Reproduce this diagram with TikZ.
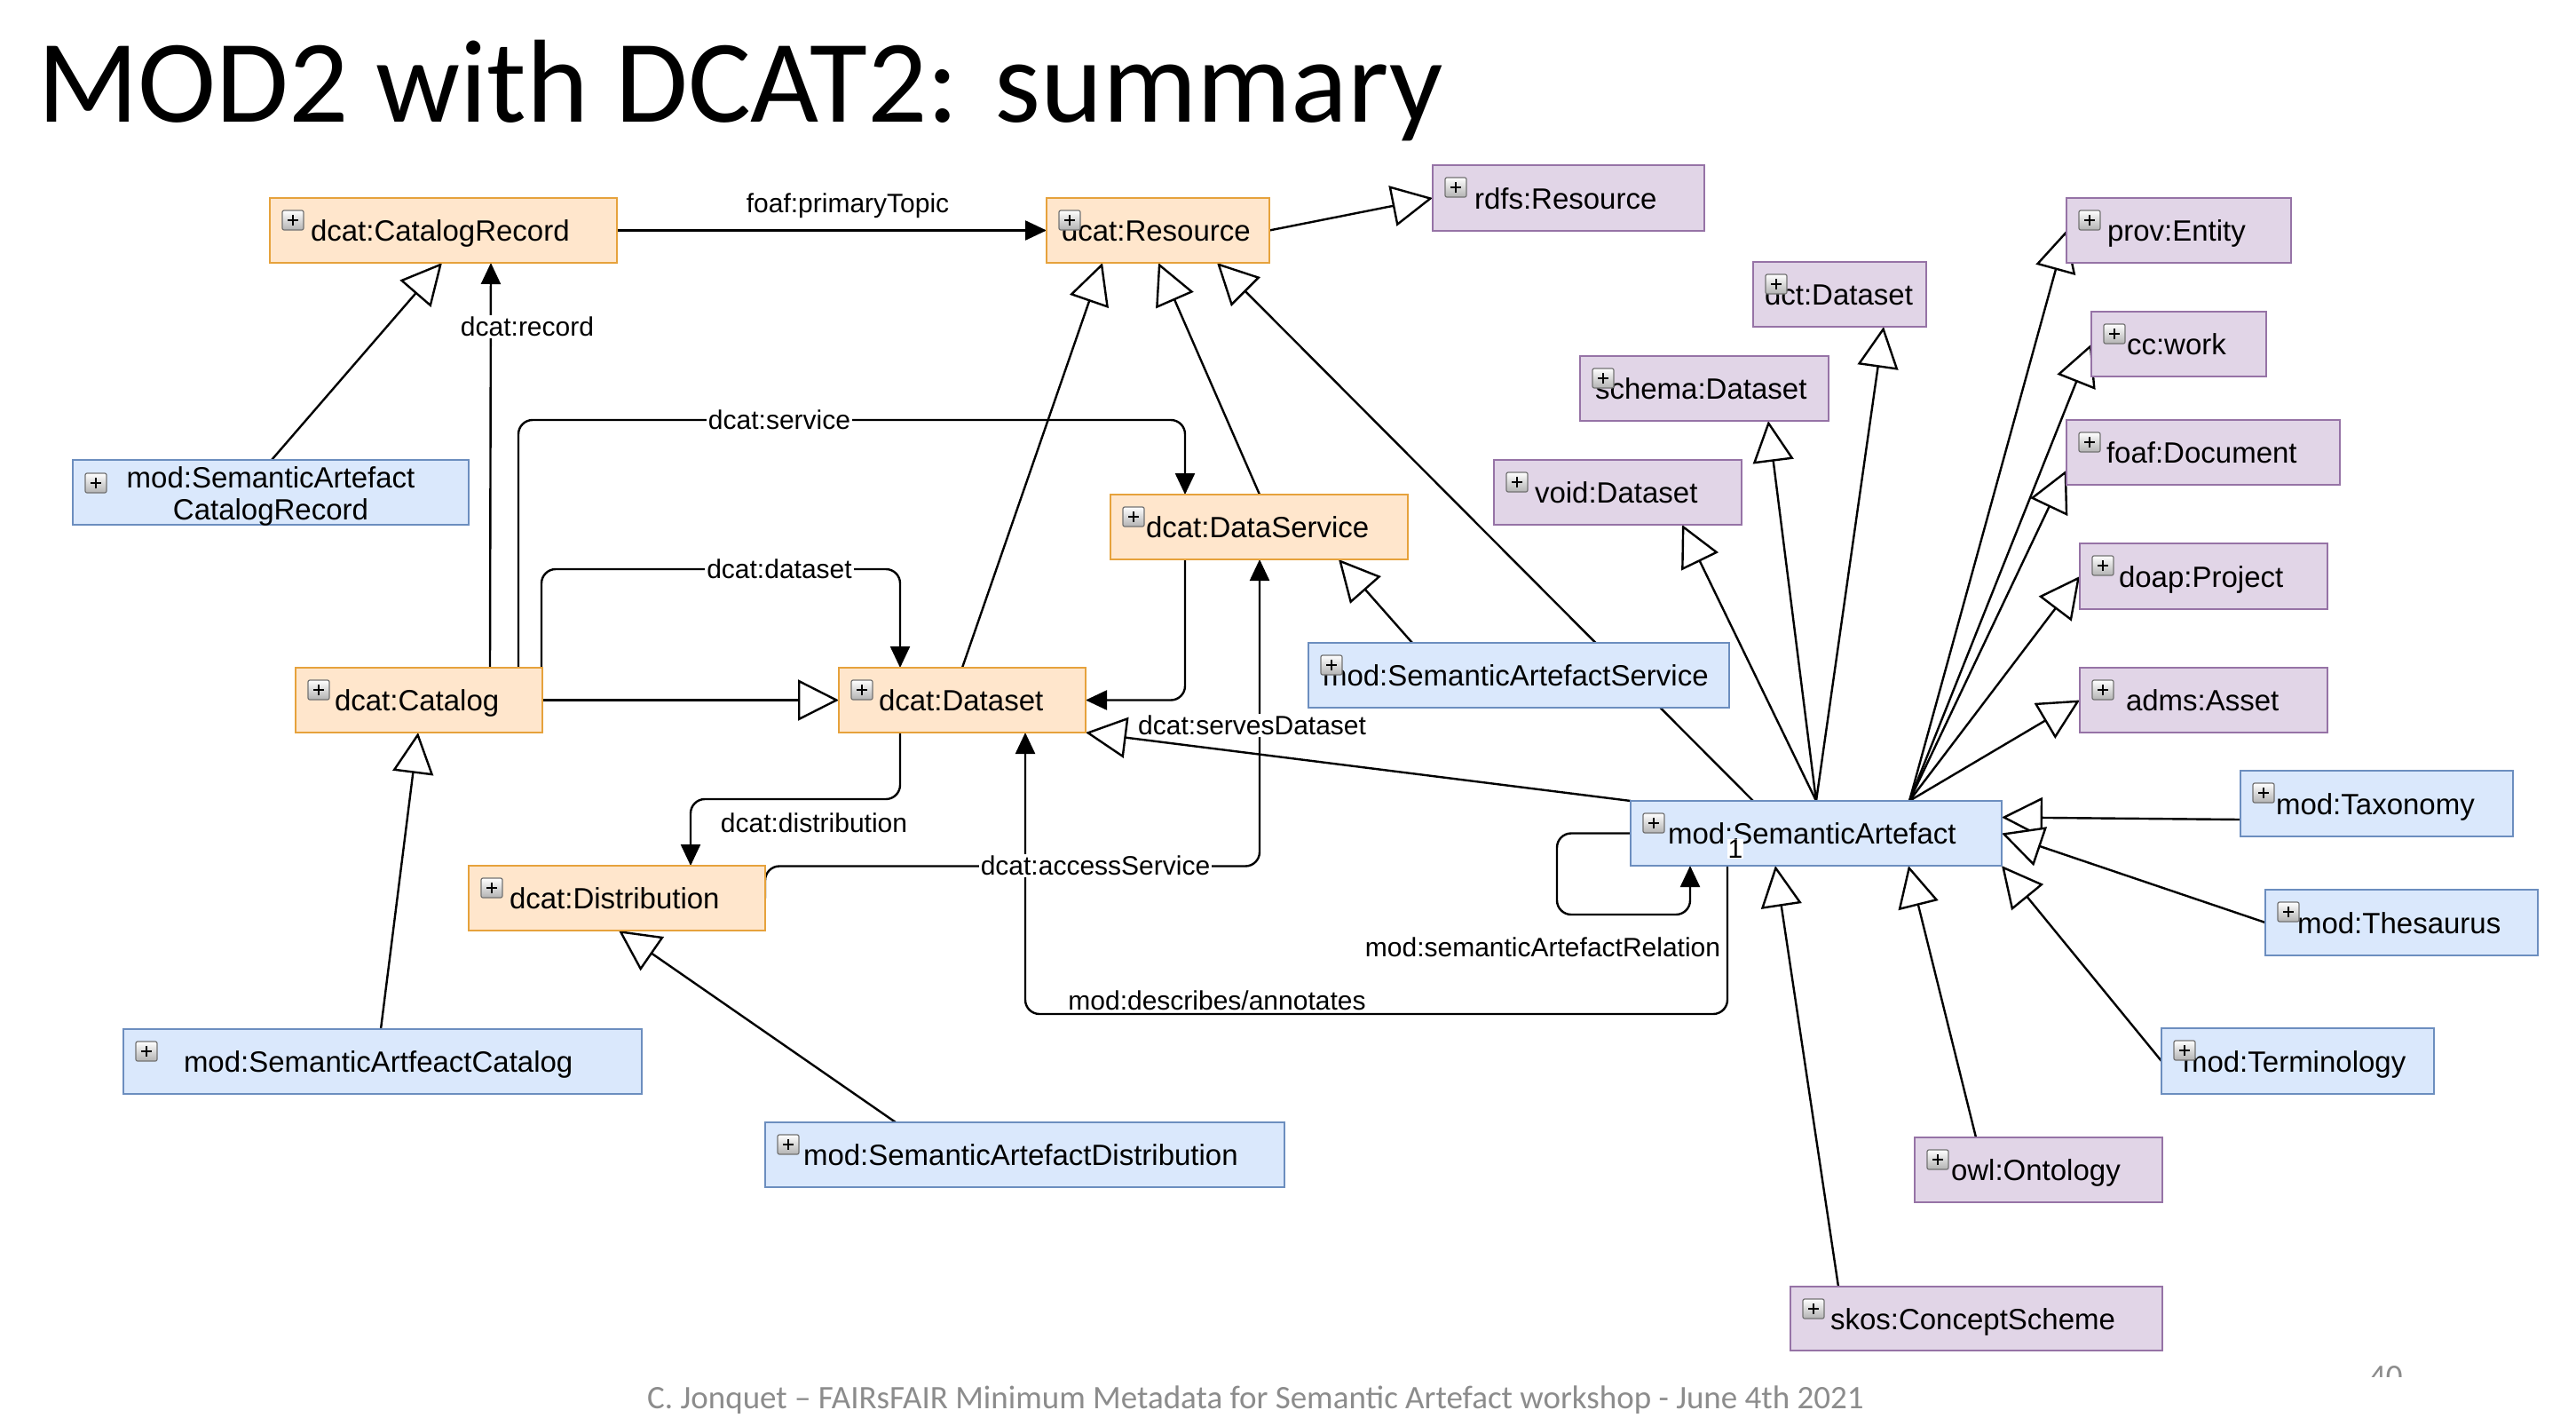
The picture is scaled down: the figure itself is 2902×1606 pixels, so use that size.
\documentclass[tikz,border=0pt]{standalone}
\usepackage{fontspec}
\setmainfont{Liberation Sans}
\newfontfamily\slidefont{Carlito}
\usetikzlibrary{arrows.meta,backgrounds}

\definecolor{orfill}{HTML}{FFE6CC}
\definecolor{ordraw}{HTML}{E6A23C}
\definecolor{blfill}{HTML}{DAE8FC}
\definecolor{bldraw}{HTML}{6C8EBF}
\definecolor{pufill}{HTML}{E1D5E7}
\definecolor{pudraw}{HTML}{9673A6}
\definecolor{footgrey}{HTML}{8C8C8C}

\tikzset{
  classbox/.style={draw, line width=2.4pt, inner sep=0pt, outer sep=0pt, anchor=north west},
  dcatbox/.style={classbox, fill=orfill, draw=ordraw},
  modbox/.style={classbox, fill=blfill, draw=bldraw},
  extbox/.style={classbox, fill=pufill, draw=pudraw},
  cname/.style={font=\fontsize{33}{33}\selectfont, inner sep=0pt, outer sep=0pt},
  plusicon/.style={anchor=north west, minimum width=24pt, minimum height=22pt,
    inner sep=0pt, outer sep=0pt, draw=black!55, line width=1.2pt, rounded corners=2pt,
    top color=white, bottom color=black!30,
    path picture={
      \draw[line width=2.6pt, black]
        ([xshift=-6pt]path picture bounding box.center) -- ([xshift=6pt]path picture bounding box.center)
        ([yshift=-6pt]path picture bounding box.center) -- ([yshift=6pt]path picture bounding box.center);}},
  gen/.style={line width=2.4pt, -{Triangle[length=46pt, width=46pt, fill=white]}},
  assoc/.style={line width=2.4pt, rounded corners=16pt, -{Triangle[length=24pt, width=22pt]}},
  elabel/.style={font=\fontsize{30}{30}\selectfont, fill=white, inner sep=2pt},
}

% class box: name, style, x1, y1, x2, y2, text offset, text
\newcommand\umlclass[8]{%
  \node[#2, minimum width={#5-#3}, minimum height={#6-#4}] (#1) at (#3,#4) {};
  \node[cname, anchor=base west] (#1-t) at ([xshift=#7, yshift=-12]#1.west) {#8};
  \node[plusicon] (#1-i) at ([xshift=14, yshift=-14]#1.north west) {};
}

\begin{document}
\begin{tikzpicture}[x=1pt, y=-1pt]
\useasboundingbox (0,0) rectangle (2902,1606);

% title and footer
\node[anchor=base west, inner sep=0pt, font=\slidefont\fontsize{133}{160}\selectfont] (title) at (42,137) {MOD2 with DCAT2: summary};
\node[anchor=base west, inner sep=0pt, text=footgrey, font=\slidefont\fontsize{37}{44}\selectfont] (footer) at (729,1586) {C. Jonquet – FAIRsFAIR Minimum Metadata for Semantic Artefact workshop - June 4th 2021};
\begin{scope}
  \clip (2600,1450) rectangle (2800,1550);
  \node[anchor=base west, inner sep=0pt, text=footgrey, font=\slidefont\fontsize{37}{44}\selectfont] (pagenum) at (2669,1562) {40};
\end{scope}

% classes
\umlclass{cr}{dcatbox}{304}{223}{695}{296}{46}{dcat:CatalogRecord}
\umlclass{res}{dcatbox}{1179}{223}{1430}{296}{17}{dcat:Resource}
\umlclass{rdfs}{extbox}{1614}{186}{1920}{260}{47}{rdfs:Resource}
\umlclass{dct}{extbox}{1975}{295}{2170}{368}{13}{dct:Dataset}
\umlclass{schema}{extbox}{1780}{401}{2060}{474}{17}{schema:Dataset}
\umlclass{void}{extbox}{1683}{518}{1962}{591}{46}{void:Dataset}
\umlclass{prov}{extbox}{2328}{223}{2581}{296}{46}{prov:Entity}
\umlclass{cc}{extbox}{2356}{351}{2553}{424}{40}{cc:work}
\umlclass{foaf}{extbox}{2328}{473}{2636}{546}{45}{foaf:Document}
\umlclass{doap}{extbox}{2343}{612}{2622}{686}{44}{doap:Project}
\umlclass{adms}{extbox}{2343}{752}{2622}{825}{52}{adms:Asset}
\umlclass{dserv}{dcatbox}{1251}{557}{1586}{630}{40}{dcat:DataService}
\umlclass{cat}{dcatbox}{333}{752}{611}{825}{44}{dcat:Catalog}
\umlclass{ds}{dcatbox}{945}{752}{1223}{825}{45}{dcat:Dataset}
\umlclass{dist}{dcatbox}{528}{975}{862}{1048}{46}{dcat:Distribution}
\umlclass{saserv}{modbox}{1474}{724}{1948}{797}{16}{mod:SemanticArtefactService}
\umlclass{sa}{modbox}{1837}{902}{2255}{975}{42}{mod:SemanticArtefact}
\umlclass{tax}{modbox}{2524}{868}{2831}{942}{40}{mod:Taxonomy}
\umlclass{thes}{modbox}{2552}{1002}{2859}{1076}{36}{mod:Thesaurus}
\umlclass{term}{modbox}{2435}{1158}{2742}{1232}{24}{mod:Terminology}
\umlclass{owl}{extbox}{2157}{1281}{2436}{1354}{41}{owl:Ontology}
\umlclass{skos}{extbox}{2017}{1449}{2436}{1521}{45}{skos:ConceptScheme}
\umlclass{sacat}{modbox}{139}{1159}{723}{1232}{68}{mod:SemanticArtfeactCatalog}
\umlclass{sadist}{modbox}{862}{1264}{1447}{1337}{43}{mod:SemanticArtefactDistribution}

% two-line class box
\node[modbox, minimum width=446pt, minimum height=73pt] (sacr) at (82,518) {};
\node[cname, anchor=base] (sacr-t1) at (305,549) {mod:SemanticArtefact};
\node[cname, anchor=base] (sacr-t2) at (305,585) {CatalogRecord};
\node[plusicon] (sacr-i) at (96,533) {};

% multiplicity
\node[elabel, inner sep=1pt] (mult) at (1955,956) {1};

\begin{pgfonlayer}{background}
  \fill[white] (0,0) rectangle (2902,1606);

  % subclass relations
  \draw[gen] ([xshift=224]sacr.north west) -- ([xshift=194]cr.south west);
  \draw[gen] (res.east) -- (rdfs.west);
  \draw[gen] (cat.east) -- (ds.west);
  \draw[gen] ([xshift=139]ds.north west) -- ([xshift=63]res.south west);
  \draw[gen] ([xshift=168]dserv.north west) -- ([xshift=126]res.south west);
  \draw[gen] ([xshift=138]sa.north west) -- ([xshift=192]res.south west);
  \draw[gen] ([xshift=117]saserv.north west) -- ([xshift=257]dserv.south west);
  \draw[gen] (sa.north west) -- (ds.south east);
  \draw[gen] ([xshift=290]sacat.north west) -- ([xshift=138]cat.south west);
  \draw[gen] ([xshift=147]sadist.north west) -- ([xshift=169]dist.south west);
  \draw[gen] ([xshift=209]sa.north west) -- ([xshift=212]void.south west);
  \draw[gen] ([xshift=209]sa.north west) -- ([xshift=212]schema.south west);
  \draw[gen] ([xshift=209]sa.north west) -- ([xshift=147]dct.south west);
  \draw[gen] ([xshift=314]sa.north west) -- (prov.west);
  \draw[gen] ([xshift=314]sa.north west) -- (cc.west);
  \draw[gen] ([xshift=314]sa.north west) -- ([yshift=-20]foaf.west);
  \draw[gen] ([xshift=314]sa.north west) -- (doap.west);
  \draw[gen] ([xshift=314]sa.north west) -- (adms.west);
  \draw[gen] ([yshift=-18]tax.west) -- ([yshift=18]sa.east);
  \draw[gen] (thes.west) -- (sa.east);
  \draw[gen] (term.west) -- (sa.south east);
  \draw[gen] ([xshift=69]owl.north west) -- ([xshift=313]sa.south west);
  \draw[gen] ([xshift=54]skos.north west) -- ([xshift=163]sa.south west);

  % properties
  \draw[assoc] (cr.east) -- (res.west);
  \draw[assoc] ([xshift=219]cat.north west) -- ([xshift=249]cr.south west);
  \draw[assoc] ([xshift=251]cat.north west) -- ++(0,-279) -| ([xshift=84]dserv.north west);
  \draw[assoc] ([xshift=-1]cat.north east) -- ++(0,-111) -| ([xshift=69]ds.north west);
  \draw[assoc] ([xshift=69]ds.south west) -- ++(0,75) -| ([xshift=250]dist.north west);
  \draw[assoc] ([xshift=84]dserv.south west) |- (ds.east);
  \draw[assoc] (dist.east) -- ++(0,-36) -| ([xshift=168]dserv.south west);
  \draw[assoc] ([xshift=109]sa.south west) -- ++(0,167) -| ([xshift=210]ds.south west);
  \draw[assoc] (sa.west) -- ++(-83,0) -- ++(0,91.5) -| ([xshift=67]sa.south west);

  % property labels
  \node[elabel] (lbl-primary) at (955,232) {foaf:primaryTopic};
  \node[elabel] (lbl-record) at (594,368) {dcat:record};
  \node[elabel] (lbl-service) at (878,473) {dcat:service};
  \node[elabel] (lbl-dataset) at (878,641) {dcat:dataset};
  \node[elabel] (lbl-distribution) at (917,927) {dcat:distribution};
  \node[elabel, anchor=west] (lbl-serves) at (1280,817) {dcat:servesDataset};
  \node[elabel] (lbl-access) at (1234,975) {dcat:accessService};
  \node[elabel, anchor=base, inner xsep=0pt] (lbl-describes) at (1371,1137) {mod:describes/annotates};
  \node[elabel] (lbl-relation) at (1738,1067) {mod:semanticArtefactRelation};
\end{pgfonlayer}
\end{tikzpicture}
\end{document}
